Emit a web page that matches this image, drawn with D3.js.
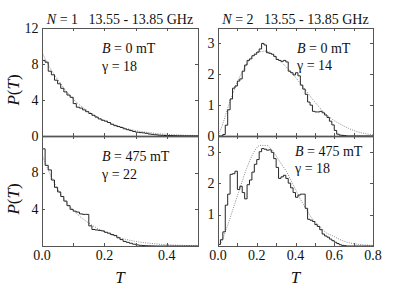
<!DOCTYPE html>
<html>
<head>
<meta charset="utf-8">
<script src="https://cdn.jsdelivr.net/npm/d3@7"></script>
<style>
  body { margin: 0; background: #fff; }
  svg text { font-family: "Liberation Serif", "Times New Roman", Times, serif; fill: #111; }
</style>
</head>
<body>
<div id="chart"></div>
<script>

//////////////////////////////////////////////////////////////////////////////
// Data: histograms (fixed bin width) and dotted fits

var binLeft = 0.01;
var binRight = 0.0125;

// N = 1, B = 0 mT
var histN1B0 = [8.4, 8.2, 7.2, 6.8, 6.2, 5.8, 5.3, 4.9, 4.55, 4.3,
                3.6, 3.2, 3.1, 2.9, 2.7, 2.5, 2.3, 2.1, 1.9, 1.75,
                1.65, 1.5, 1.3, 1.15, 1.05, 0.95, 0.8, 0.7, 0.6, 0.5,
                0.42, 0.38, 0.35, 0.3, 0.22, 0.18, 0.14, 0.1, 0.08, 0.06,
                0.05, 0.04, 0.03, 0.02, 0.02, 0.01, 0.01, 0.01, 0, 0];
var fitN1B0T = [0, 0.025, 0.05, 0.075, 0.1, 0.15, 0.2, 0.25, 0.3, 0.35, 0.4, 0.45, 0.5];
var fitN1B0P = [9.3, 7.6, 6.3, 5.1, 4.1, 2.7, 1.7, 1.05, 0.6, 0.35, 0.18, 0.1, 0.05];

// N = 1, B = 475 mT
var histN1B475 = [10.6, 8.8, 8.3, 7.2, 6.4, 5.9, 5.4, 4.9, 4.4, 4.0,
                  3.8, 3.7, 3.5, 3.45, 3.45, 2.2, 1.8, 1.75, 1.7, 1.65,
                  1.5, 1.4, 1.25, 1.15, 0.9, 0.7, 0.5, 0.4, 0.3, 0.2,
                  0.12, 0.08, 0.05, 0.03, 0.02, 0.01, 0, 0, 0, 0,
                  0, 0, 0, 0, 0, 0, 0, 0, 0, 0];
var fitN1B475T = [0, 0.025, 0.05, 0.075, 0.1, 0.15, 0.2, 0.25, 0.3, 0.35, 0.4, 0.45, 0.5];
var fitN1B475P = [10.0, 7.9, 6.2, 4.9, 3.9, 2.5, 1.55, 0.9, 0.5, 0.28, 0.14, 0.07, 0.03];

// N = 2, B = 0 mT
var histN2B0 = [0, 0, 0.05, 0.35, 0.85, 1.2, 1.55, 1.62, 1.78, 1.85,
                2.1, 2.3, 2.45, 2.5, 2.6, 2.65, 2.72, 2.82, 3.0, 2.95,
                2.7, 2.68, 2.65, 2.58, 2.48, 2.45, 2.42, 2.45, 2.4, 2.1,
                2.05, 1.98, 2.05, 1.95, 1.65, 1.52, 1.35, 1.1, 1.0, 0.8,
                0.78, 0.78, 0.8, 0.75, 0.68, 0.6, 0.48, 0.36, 0.18, 0.06,
                0.03, 0.02, 0.01, 0, 0, 0, 0, 0, 0, 0,
                0, 0, 0, 0];
var fitN2B0T = [0, 0.025, 0.05, 0.075, 0.1, 0.15, 0.2, 0.25, 0.3, 0.35, 0.4,
                0.45, 0.5, 0.55, 0.6, 0.65, 0.7, 0.75, 0.8];
var fitN2B0P = [0, 0.4, 0.9, 1.35, 1.75, 2.35, 2.7, 2.75, 2.55, 2.25, 1.9,
                1.5, 1.1, 0.75, 0.5, 0.32, 0.18, 0.09, 0.04];

// N = 2, B = 475 mT
var histN2B475 = [0.05, 0.2, 0.45, 1.3, 1.65, 2.28, 2.3, 2.38, 1.8, 1.9,
                  1.7, 1.5, 1.95, 2.1, 2.35, 2.6, 2.75, 3.0, 3.1, 3.08,
                  3.05, 3.06, 2.98, 2.78, 2.5, 2.15, 2.2, 2.25, 2.15, 2.0,
                  1.85, 1.7, 1.55, 1.62, 1.65, 1.65, 1.2, 0.85, 0.82, 0.78,
                  0.68, 0.62, 0.52, 0.38, 0.32, 0.28, 0.22, 0.17, 0.12, 0.08,
                  0.04, 0.02, 0.01, 0, 0, 0, 0, 0, 0, 0,
                  0, 0, 0, 0];
var fitN2B475T = [0, 0.01, 0.045, 0.079, 0.113, 0.148, 0.182, 0.216, 0.25, 0.285,
                  0.319, 0.353, 0.388, 0.422, 0.456, 0.49, 0.525, 0.559, 0.593,
                  0.628, 0.679, 0.73, 0.8];
var fitN2B475P = [0, 0.05, 0.58, 1.2, 1.84, 2.47, 2.95, 3.2, 3.2, 3.0,
                  2.68, 2.37, 1.95, 1.53, 1.16, 0.84, 0.63, 0.42, 0.32,
                  0.21, 0.1, 0.05, 0.02];

var titles = ["1", "2"];
var freqRange = "13.55 - 13.85 GHz";
var fieldLabels = ["0", "475"];
var gammas = [[18, 22], [14, 18]];   // [column][row]

//////////////////////////////////////////////////////////////////////////////
// Layout

var width = 415, height = 289;

var svg = d3.select("#chart")
    .append("svg")
    .attr("width", width)
    .attr("height", height);

var xScales = [
    d3.scaleLinear().domain([0, 0.5]).range([42, 198]),
    d3.scaleLinear().domain([0, 0.8]).range([218, 373])
];
var rowRanges = [[136, 28], [246, 136]];
var yMax = [12, 3.5];

var xTickVals = [d3.range(0, 0.501, 0.1), d3.range(0, 0.801, 0.1)];
var xLabelVals = [[0, 0.2, 0.4], [0, 0.2, 0.4, 0.6, 0.8]];
var yTickVals = [[4, 8], [1, 2, 3]];
var yLabelVals = [[[0, 4, 8, 12], [4, 8]], [[0, 1, 2, 3], [1, 2, 3]]];

var panels = [
    {col: 0, row: 0, hist: histN1B0, bin: binLeft, fitT: fitN1B0T, fitP: fitN1B0P},
    {col: 0, row: 1, hist: histN1B475, bin: binLeft, fitT: fitN1B475T, fitP: fitN1B475P},
    {col: 1, row: 0, hist: histN2B0, bin: binRight, fitT: fitN2B0T, fitP: fitN2B0P},
    {col: 1, row: 1, hist: histN2B475, bin: binRight, fitT: fitN2B475T, fitP: fitN2B475P}
];

panels.forEach(function(p, i) {
    var x = xScales[p.col];
    var y = d3.scaleLinear().domain([0, yMax[p.col]]).range(rowRanges[p.row]);
    var x0 = x.range()[0], x1 = x.range()[1];
    var y0 = y.range()[0], y1 = y.range()[1];
    var g = svg.append("g");

    g.append("clipPath").attr("id", "clip" + i)
        .append("rect")
        .attr("x", x0).attr("y", y1)
        .attr("width", x1 - x0).attr("height", y0 - y1);

    // dotted fit
    var fitPts = p.fitT.map(function(t, k) { return [t, p.fitP[k]]; });
    g.append("path")
        .datum(fitPts)
        .attr("clip-path", "url(#clip" + i + ")")
        .attr("fill", "none")
        .attr("stroke", "#8a8a8a")
        .attr("stroke-width", 1)
        .attr("stroke-dasharray", "1,1.3")
        .attr("d", d3.line()
            .x(function(d) { return x(d[0]); })
            .y(function(d) { return y(d[1]); })
            .curve(d3.curveMonotoneX));

    // histogram as steps
    var histPts = p.hist.map(function(v, k) { return [k * p.bin, v]; });
    histPts.push([p.hist.length * p.bin, p.hist[p.hist.length - 1]]);
    g.append("path")
        .datum(histPts)
        .attr("clip-path", "url(#clip" + i + ")")
        .attr("fill", "none")
        .attr("stroke", "#262626")
        .attr("stroke-width", 1)
        .attr("d", d3.line()
            .x(function(d) { return x(d[0]); })
            .y(function(d) { return y(d[1]); })
            .curve(d3.curveStepAfter));

    // frame
    g.append("rect")
        .attr("x", x0 + 0.5).attr("y", y1 + 0.5)
        .attr("width", x1 - x0).attr("height", y0 - y1)
        .attr("fill", "none")
        .attr("stroke", "#555")
        .attr("stroke-width", 1);

    if (p.row == 0) {
        g.append("line")
            .attr("x1", x0).attr("x2", x1 + 1)
            .attr("y1", y0 + 0.5).attr("y2", y0 + 0.5)
            .attr("stroke", "#000").attr("stroke-width", 1.3);
    }

    // inward ticks, all four sides
    var tk = 3;
    xTickVals[p.col].forEach(function(t) {
        var xx = Math.round(x(t)) + 0.5;
        g.append("line").attr("x1", xx).attr("x2", xx)
            .attr("y1", y0).attr("y2", y0 - tk).attr("stroke", "#555");
        g.append("line").attr("x1", xx).attr("x2", xx)
            .attr("y1", y1).attr("y2", y1 + tk).attr("stroke", "#555");
    });
    yTickVals[p.col].forEach(function(v) {
        var yy = Math.round(y(v)) + 0.5;
        g.append("line").attr("x1", x0).attr("x2", x0 + tk)
            .attr("y1", yy).attr("y2", yy).attr("stroke", "#555");
        g.append("line").attr("x1", x1).attr("x2", x1 - tk)
            .attr("y1", yy).attr("y2", yy).attr("stroke", "#555");
    });

    // y tick labels
    g.selectAll(".ylab")
        .data(yLabelVals[p.col][p.row])
        .enter().append("text")
        .attr("x", x0 - 3.5)
        .attr("y", function(d) { return y(d) + 4.5; })
        .attr("text-anchor", "end")
        .attr("font-size", 14)
        .text(function(d) { return d; });

    // x tick labels on the bottom row
    if (p.row == 1) {
        g.selectAll(".xlab")
            .data(xLabelVals[p.col])
            .enter().append("text")
            .attr("x", function(d) { return x(d); })
            .attr("y", y0 + 14)
            .attr("text-anchor", "middle")
            .attr("font-size", 14)
            .text(function(d) { return d3.format(".1f")(d); });

        g.append("text")
            .attr("x", (x0 + x1) / 2)
            .attr("y", 283)
            .attr("text-anchor", "middle")
            .attr("font-size", 17)
            .attr("font-style", "italic")
            .text("T");
    }

    // B and gamma labels inside
    var lx = p.col == 0 ? 102 : (p.row == 0 ? 297 : 295);
    var ly = p.col == 0 ? (p.row == 0 ? 53 : 161) : (p.row == 0 ? 53 : 156);
    var bt = g.append("text").attr("x", lx).attr("y", ly).attr("font-size", 14);
    bt.append("tspan").attr("font-style", "italic").text("B");
    bt.append("tspan").text(" = " + fieldLabels[p.row] + " mT");
    g.append("text").attr("x", lx).attr("y", ly + (p.col == 0 ? 18 : 17))
        .attr("font-size", 14)
        .text("\u03b3 = " + gammas[p.col][p.row]);

    // column titles
    if (p.row == 0) {
        var tt = g.append("text")
            .attr("x", (x0 + x1) / 2)
            .attr("y", 24)
            .attr("text-anchor", "middle")
            .attr("font-size", 14);
        tt.append("tspan").attr("font-style", "italic").text("N");
        tt.append("tspan").text(" = " + titles[p.col] + "\u00a0\u00a0\u00a0" + freqRange);
    }

    // y axis title on the left column
    if (p.col == 0) {
        var cy = p.row == 0 ? 90 : 199;
        var yt = g.append("text")
            .attr("transform", "translate(19," + cy + ") rotate(-90)")
            .attr("text-anchor", "middle")
            .attr("font-size", 17);
        yt.append("tspan").attr("font-style", "italic").text("P");
        yt.append("tspan").text("(");
        yt.append("tspan").attr("font-style", "italic").text("T");
        yt.append("tspan").text(")");
    }
});

</script>
</body>
</html>
